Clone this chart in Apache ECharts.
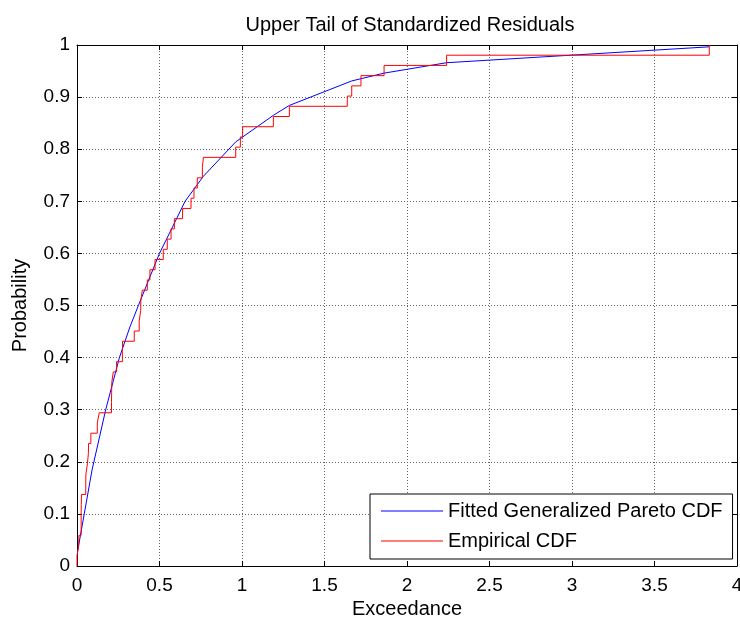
<!DOCTYPE html>
<html>
<head>
<meta charset="utf-8">
<script src="https://cdn.jsdelivr.net/npm/echarts@6/dist/echarts.min.js"></script>
<style>
html,body{margin:0;padding:0;background:#fff;}
#chart{width:740px;height:619px;}
</style>
</head>
<body>
<div id="chart"></div>
<script>
// Sorted exceedances (sample values read from the staircase)
const exceedances = [0.000, 0.010, 0.012, 0.025, 0.025, 0.026, 0.027, 0.053, 0.054, 0.063,
  0.069, 0.070, 0.084, 0.123, 0.135, 0.209, 0.210, 0.211, 0.220, 0.240,
  0.275, 0.276, 0.347, 0.377, 0.386, 0.387, 0.396, 0.426, 0.442, 0.473,
  0.523, 0.547, 0.570, 0.590, 0.640, 0.691, 0.709, 0.729, 0.760, 0.766,
  0.962, 0.990, 1.004, 1.190, 1.287, 1.638, 1.665, 1.721, 1.861, 2.240, 3.832];
// Fitted generalized Pareto CDF
const fitX = [0.003, 0.044, 0.091, 0.174, 0.257, 0.321, 0.372, 0.442, 0.500, 0.570,
  0.655, 0.766, 0.962, 1.190, 1.287, 1.665, 1.861, 2.240, 3.832];
const fitP = [0.027, 0.100, 0.184, 0.300, 0.400, 0.459, 0.500, 0.555, 0.600, 0.645,
  0.700, 0.748, 0.814, 0.865, 0.884, 0.931, 0.946, 0.966, 0.9965];
const seriesNames = ['Fitted Generalized Pareto CDF', 'Empirical CDF'];

// Build empirical CDF staircase
const n = exceedances.length;
const ecdfData = [[exceedances[0], 0]];
for (let i = 0; i < n; i++) {
  ecdfData.push([exceedances[i], i / n]);
  ecdfData.push([exceedances[i], (i + 1) / n]);
}
const fitData = fitX.map((x, i) => [x, fitP[i]]);

const FONT = 'Liberation Sans, Arial, sans-serif';
const gridLine = {show: true, lineStyle: {color: '#666', type: [1, 2], width: 1}};
const axLine = {show: true, onZero: false, lineStyle: {color: '#000', width: 1}};
const tick = {show: true, inside: true, length: 5, lineStyle: {color: '#000'}};

const chart = echarts.init(document.getElementById('chart'), null, {renderer: 'canvas'});
chart.setOption({
  animation: false,
  backgroundColor: '#fff',
  title: {
    text: 'Upper Tail of Standardized Residuals',
    left: 405, top: 10, textAlign: 'center',
    textStyle: {fontFamily: FONT, fontSize: 20, fontWeight: 'normal', color: '#000'}
  },
  grid: {left: 77, top: 45, width: 660, height: 521, containLabel: false, outerBoundsMode: 'none'},
  legend: {
    data: seriesNames,
    orient: 'vertical',
    left: 370, top: 494,
    padding: [7, 10, 8, 11],
    itemGap: 10,
    itemWidth: 62, itemHeight: 1.2,
    icon: 'rect',
    backgroundColor: '#fff',
    borderColor: '#000', borderWidth: 1,
    textStyle: {fontFamily: FONT, fontSize: 20, color: '#000'}
  },
  xAxis: [{
    type: 'value', min: 0, max: 4, interval: 0.5,
    name: 'Exceedance', nameLocation: 'middle', nameGap: 30,
    nameTextStyle: {fontFamily: FONT, fontSize: 20, color: '#000'},
    axisLine: axLine, axisTick: tick, splitLine: gridLine,
    axisLabel: {fontFamily: FONT, fontSize: 19, color: '#000', margin: 10}
  }, {
    type: 'value', min: 0, max: 4, interval: 0.5, position: 'top',
    axisLine: axLine, axisTick: tick, splitLine: {show: false},
    axisLabel: {show: false}
  }],
  yAxis: [{
    type: 'value', min: 0, max: 1, interval: 0.1,
    name: 'Probability', nameLocation: 'middle', nameGap: 47, nameRotate: 90,
    nameTextStyle: {fontFamily: FONT, fontSize: 20, color: '#000'},
    axisLine: axLine, axisTick: tick, splitLine: gridLine,
    axisLabel: {fontFamily: FONT, fontSize: 19, color: '#000', margin: 7}
  }, {
    type: 'value', min: 0, max: 1, interval: 0.1, position: 'right',
    axisLine: axLine, axisTick: tick, splitLine: {show: false},
    axisLabel: {show: false}
  }],
  series: [{
    name: seriesNames[0], type: 'line', data: fitData,
    showSymbol: false, symbol: 'none',
    lineStyle: {color: '#0000ff', width: 1},
    itemStyle: {color: '#0000ff'}
  }, {
    name: seriesNames[1], type: 'line', data: ecdfData,
    showSymbol: false, symbol: 'none',
    lineStyle: {color: '#ff0000', width: 1},
    itemStyle: {color: '#ff0000'}
  }]
});
</script>
</body>
</html>
